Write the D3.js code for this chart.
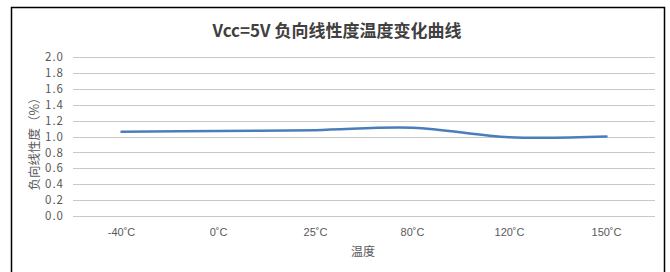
<!DOCTYPE html>
<html><head><meta charset="utf-8">
<script src="https://cdn.jsdelivr.net/npm/d3@7/dist/d3.min.js"></script>
<style>html,body{margin:0;padding:0;background:#fff;}svg{display:block;}</style>
</head><body>
<script>
const categories = ["-40˚C", "0˚C", "25˚C", "80˚C", "120˚C", "150˚C"];
const values = [1.06, 1.07, 1.08, 1.11, 0.99, 1.00];
const yTicks = [0.0, 0.2, 0.4, 0.6, 0.8, 1.0, 1.2, 1.4, 1.6, 1.8, 2.0];
const title = "Vcc=5V 负向线性度温度变化曲线";
const xTitle = "温度";
const yTitle = "负向线性度（%）";

(function () {
const W = 670, H = 272;
const font = "'Noto Sans CJK SC', 'Noto Sans', sans-serif";
const svg = d3.select("body").append("svg").attr("width", W).attr("height", H);

svg.append("rect").attr("x", 11.5).attr("y", 7.5).attr("width", 653).attr("height", 280)
  .attr("fill", "#fff").attr("stroke", "#000").attr("stroke-width", 1.5);

const mLeft = 73, mRight = 655, mTop = 57, mBottom = 216;
const x = d3.scaleBand().domain(categories).range([mLeft, mRight]);
const y = d3.scaleLinear().domain([0, 2]).range([mBottom, mTop]);

const grid = svg.append("g");
grid.selectAll("line").data(yTicks).join("line")
  .attr("x1", mLeft).attr("x2", mRight)
  .attr("y1", d => Math.round(y(d)) + 0.5).attr("y2", d => Math.round(y(d)) + 0.5)
  .attr("stroke", "#c8c8c8").attr("stroke-width", 1);

const yAxis = svg.append("g").attr("transform", `translate(${mLeft},0)`)
  .call(d3.axisLeft(y).tickValues(yTicks).tickFormat(d3.format(".1f")).tickSize(0).tickPadding(9));
yAxis.select(".domain").remove();
yAxis.selectAll("text").attr("fill", "#595959").style("font-family", font)
  .style("font-size", "11.5px").style("letter-spacing", "1px");

const xAxis = svg.append("g").attr("transform", `translate(0,${mBottom})`)
  .call(d3.axisBottom(x).tickSize(0).tickPadding(12));
xAxis.select(".domain").remove();
xAxis.selectAll("text").attr("fill", "#595959").style("font-family", "'Liberation Sans Narrow', 'Liberation Sans', sans-serif").style("font-size", "11px");

const line = d3.line()
  .x((d, i) => x(categories[i]) + x.bandwidth() / 2)
  .y(d => y(d))
  .curve(d3.curveCatmullRom.alpha(0.5));
svg.append("path").datum(values).attr("d", line)
  .attr("fill", "none").attr("stroke", "#4a7ebb").attr("stroke-width", 2.5)
  .attr("stroke-linecap", "round");

svg.append("text").attr("x", 337).attr("y", 37).attr("text-anchor", "middle")
  .style("font-family", font).style("font-size", "17px").style("font-weight", "bold")
  .attr("fill", "#404040").text(title);

svg.append("text").attr("x", 363).attr("y", 256).attr("text-anchor", "middle")
  .style("font-family", font).style("font-size", "12px").attr("fill", "#595959").text(xTitle);

svg.append("text").attr("transform", "translate(39,141) rotate(-90)").attr("text-anchor", "middle")
  .style("font-family", font).style("font-size", "12.5px").attr("fill", "#595959").text(yTitle);
})();
</script>
</body></html>
